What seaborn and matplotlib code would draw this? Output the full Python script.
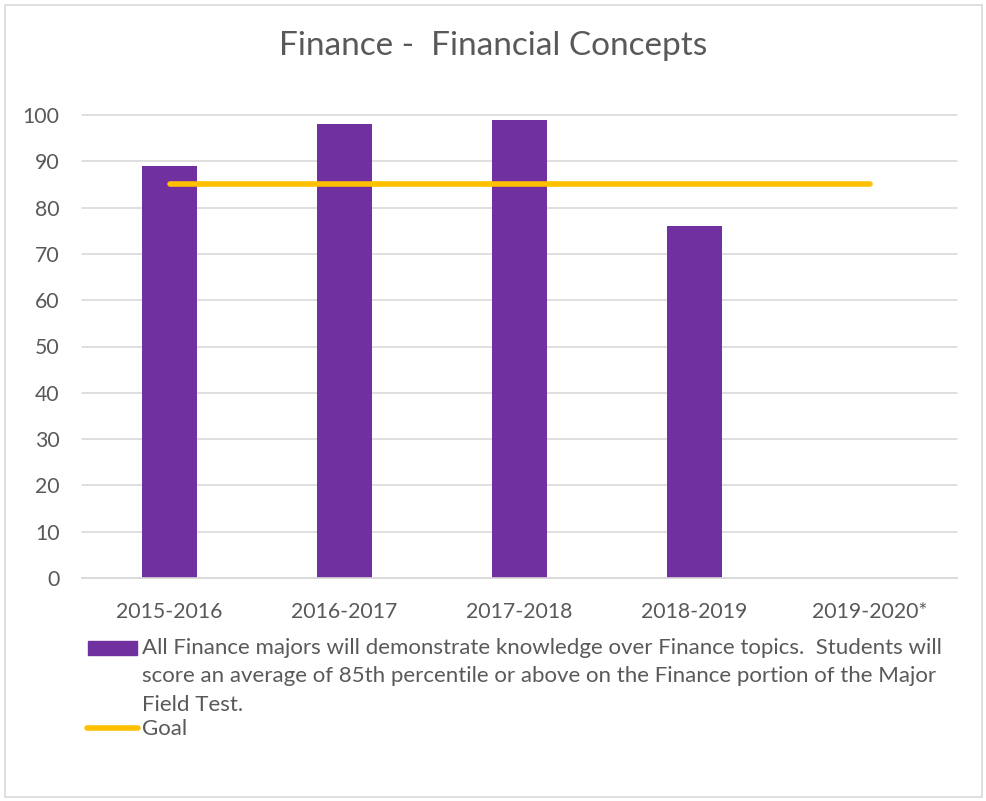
import matplotlib
matplotlib.use("Agg")
import matplotlib.pyplot as plt
import matplotlib.patches as mpatches
from matplotlib.lines import Line2D
import seaborn as sns
import pandas as pd
import numpy as np

# Data
years = ["2015-2016", "2016-2017", "2017-2018", "2018-2019", "2019-2020*"]
scores = [89, 98, 99, 76, np.nan]
goal = [85, 85, 85, 85, 85]
yticks = [0, 10, 20, 30, 40, 50, 60, 70, 80, 90, 100]

title = "Finance -  Financial Concepts"
bar_label = ("All Finance majors will demonstrate knowledge over Finance topics.  Students will\n"
             "score an average of 85th percentile or above on the Finance portion of the Major\n"
             "Field Test.")
goal_label = "Goal"

purple = "#7030A0"
gold = "#FFC000"
text_grey = "#595959"
grid_grey = "#D9D9D9"

sns.set_theme(style="white")
plt.rcParams["font.family"] = ["Lato", "DejaVu Sans"]

W, H = 987, 801
fig = plt.figure(figsize=(W / 100, H / 100), dpi=100)
ax = fig.add_axes([82 / W, 1 - 578 / H, 875 / W, 463 / H])

df = pd.DataFrame({"year": years, "score": scores})
sns.barplot(data=df, x="year", y="score", order=years, color=purple,
            saturation=1, width=0.31, ax=ax, edgecolor="none")

ax.plot(range(len(years)), goal, color=gold, lw=4, solid_capstyle="round", zorder=3)

ax.set_ylim(0, 100)
ax.set_xlim(-0.5, len(years) - 0.5)
ax.set_yticks(yticks)
ax.set_xlabel("")
ax.set_ylabel("")
ax.yaxis.grid(True, color=grid_grey, lw=1.2, clip_on=False)
ax.set_axisbelow(True)
for s in ["top", "right", "left"]:
    ax.spines[s].set_visible(False)
ax.spines["bottom"].set_color(grid_grey)
ax.spines["bottom"].set_linewidth(1.2)
ax.tick_params(axis="both", length=0, labelsize=15.3, labelcolor=text_grey)
ax.tick_params(axis="x", pad=17)
ax.tick_params(axis="y", pad=16)

fig.text(0.5, 1 - 46 / H, title, ha="center", va="center", fontsize=24, color=text_grey)

# Legend drawn beneath the plot area
fig.patches.append(mpatches.Rectangle((88 / W, 1 - 655 / H), 49 / W, 14 / H,
                                      transform=fig.transFigure, color=purple))
fig.text(142 / W, 1 - 638 / H, bar_label, ha="left", va="top", fontsize=16,
         color=text_grey, linespacing=1.52)
fig.lines.append(Line2D([87 / W, 138 / W], [1 - 728 / H, 1 - 728 / H],
                        transform=fig.transFigure, color=gold, lw=4,
                        solid_capstyle="round"))
fig.text(142 / W, 1 - 729 / H, goal_label, ha="left", va="center", fontsize=16,
         color=text_grey)

# Outer chart border
fig.patches.append(mpatches.Rectangle((5 / W, 4 / H), 977 / W, 792 / H,
                                      transform=fig.transFigure, fill=False,
                                      edgecolor="#D9D9D9", lw=1.2))

fig.savefig("out.png", dpi=100, facecolor="white")
